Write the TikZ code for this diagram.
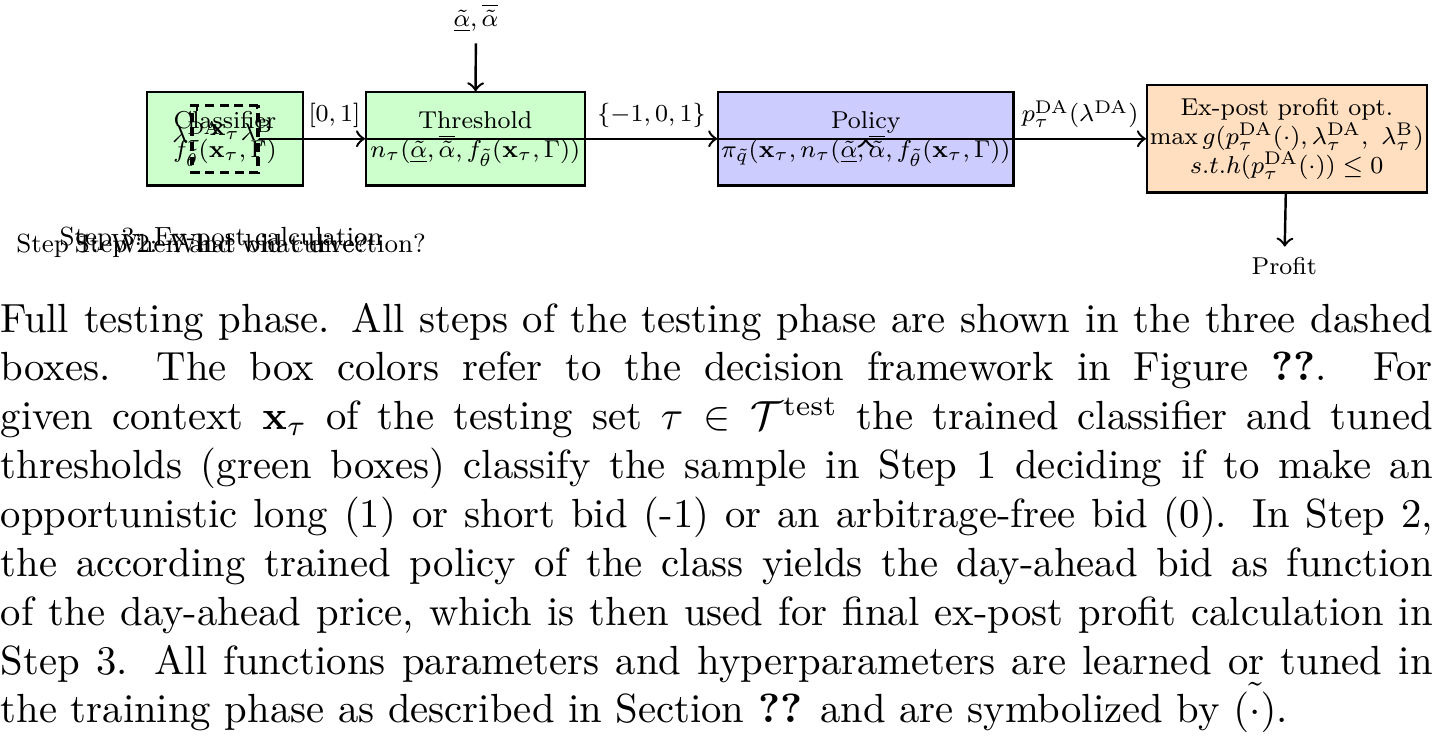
\documentclass[tikz,border=0pt]{standalone}

\tikzset{
  stage/.style={draw, semithick, align=center, inner xsep=1pt, minimum height=30.5pt, font=\footnotesize},
  lbl/.style={font=\footnotesize},
  steplbl/.style={font=\fontsize{8.6}{10}\selectfont, anchor=base},
  flow/.style={->, semithick},
}

\begin{document}
\begin{tikzpicture}[x=1pt,y=1pt]
  \path[use as bounding box] (0,0) rectangle (351.8,182.6);
  \begin{scope}[scale=0.75, transform shape]
    % testing pipeline
    \node[stage, fill=green!20, minimum width=51.1pt] (classifier) at (73.7,198)
      {Classifier\\$f_{\tilde{\theta}}(\mathbf{x}_\tau,\Gamma)$};
    \node[stage, fill=green!20, minimum width=71.7pt] (threshold) at (155.7,198)
      {Threshold\\$n_\tau(\underline{\tilde{\alpha}},\overline{\tilde{\alpha}},f_{\tilde{\theta}}(\mathbf{x}_\tau,\Gamma))$};
    \node[stage, fill=blue!20, minimum width=96.7pt] (policy) at (283.6,198)
      {Policy\\$\pi_{\tilde{q}}(\mathbf{x}_\tau,n_\tau(\underline{\tilde{\alpha}},\overline{\tilde{\alpha}},f_{\tilde{\theta}}(\mathbf{x}_\tau,\Gamma))$};
    \node[stage, fill=orange!25, minimum width=90.7pt, minimum height=35.1pt] (expost) at (421.5,198)
      {Ex-post profit opt.\\$\max g(p^{\mathrm{DA}}_\tau(\cdot),\lambda^{\mathrm{DA}}_\tau,\ \lambda^{\mathrm{B}}_\tau)$\\$s.t. h(p^{\mathrm{DA}}_\tau(\cdot))\leq 0$};

    % step 1 inputs
    \node[draw, thick, dash pattern=on 2.2pt off 1.4pt, minimum width=21.6pt, minimum height=22pt] (stepone) at (73.7,198) {};
    \node[lbl] (lamDA) at (64.5,199.2) {$\lambda^{\mathrm{DA}}_\tau$};
    \node[lbl] (ctx) at (73.7,200.2) {$\mathbf{x}_\tau$};
    \node[lbl] (lamB) at (84.2,199.8) {$\lambda^{\mathrm{B}}_\tau$};
    \draw[semithick] (lamDA.north) -- (lamDA.north |- stepone.north);
    \draw[semithick] (lamB.north) -- (lamB.north |- stepone.north);

    \node[lbl] (alpha) at (155.9,237.5) {$\underline{\tilde{\alpha}},\overline{\tilde{\alpha}}$};
    \node[lbl] (profit) at (420.7,156.3) {Profit};

    % connectors
    \draw[flow] (stepone.east) -- (threshold.west);
    \draw[flow] (threshold.west) -- (policy.west);
    \draw[flow] (policy.west) -- (expost.west);
    \draw[flow] ([yshift=-1pt]policy.center) -- (policy.center);
    \draw[flow] (alpha) -- (threshold);
    \draw[flow] (expost) -- (profit);
    \path (classifier.east) -- node[lbl, above] (clsout) {$[0,1]$} (threshold.west);
    \path (threshold.east) -- node[lbl, above] (throut) {$\{-1,0,1\}$} (policy.west);
    \path (policy.east) -- node[lbl, above] (polout) {$p^{\mathrm{DA}}_\tau(\lambda^{\mathrm{DA}})$} (expost.west);

    % step labels
    \node[steplbl] (stepA) at (72.4,160.8) {Step 1: When and what direction?};
    \node[steplbl] (stepB) at (72.4,160.8) {Step 2: What bid curve?};
    \node[steplbl] (stepC) at (72.4,163.2) {Step 3: Ex-post calculation};
  \end{scope}

  % caption
  \node[anchor=base west, inner sep=0, text width=351.8pt, align=justify] (caption) at (0,101)
    {\noindent Full testing phase. All steps of the testing phase are shown in the three dashed\linebreak
    boxes. The box colors refer to the decision framework in Figure~\textbf{??}. For\linebreak
    given context $\mathbf{x}_\tau$ of the testing set $\tau\in\mathcal{T}^{\mathrm{test}}$ the trained classifier and tuned\linebreak
    thresholds (green boxes) classify the sample in Step 1 deciding if to make an\linebreak
    opportunistic long (1) or short bid (-1) or an arbitrage-free bid (0). In Step 2,\linebreak
    the according trained policy of the class yields the day-ahead bid as function\linebreak
    of the day-ahead price, which is then used for final ex-post profit calculation in\linebreak
    Step 3. All functions parameters and hyperparameters are learned or tuned in\linebreak
    the training phase as described in Section \textbf{??} and are symbolized by $\tilde{(\cdot)}$.};
\end{tikzpicture}
\end{document}
